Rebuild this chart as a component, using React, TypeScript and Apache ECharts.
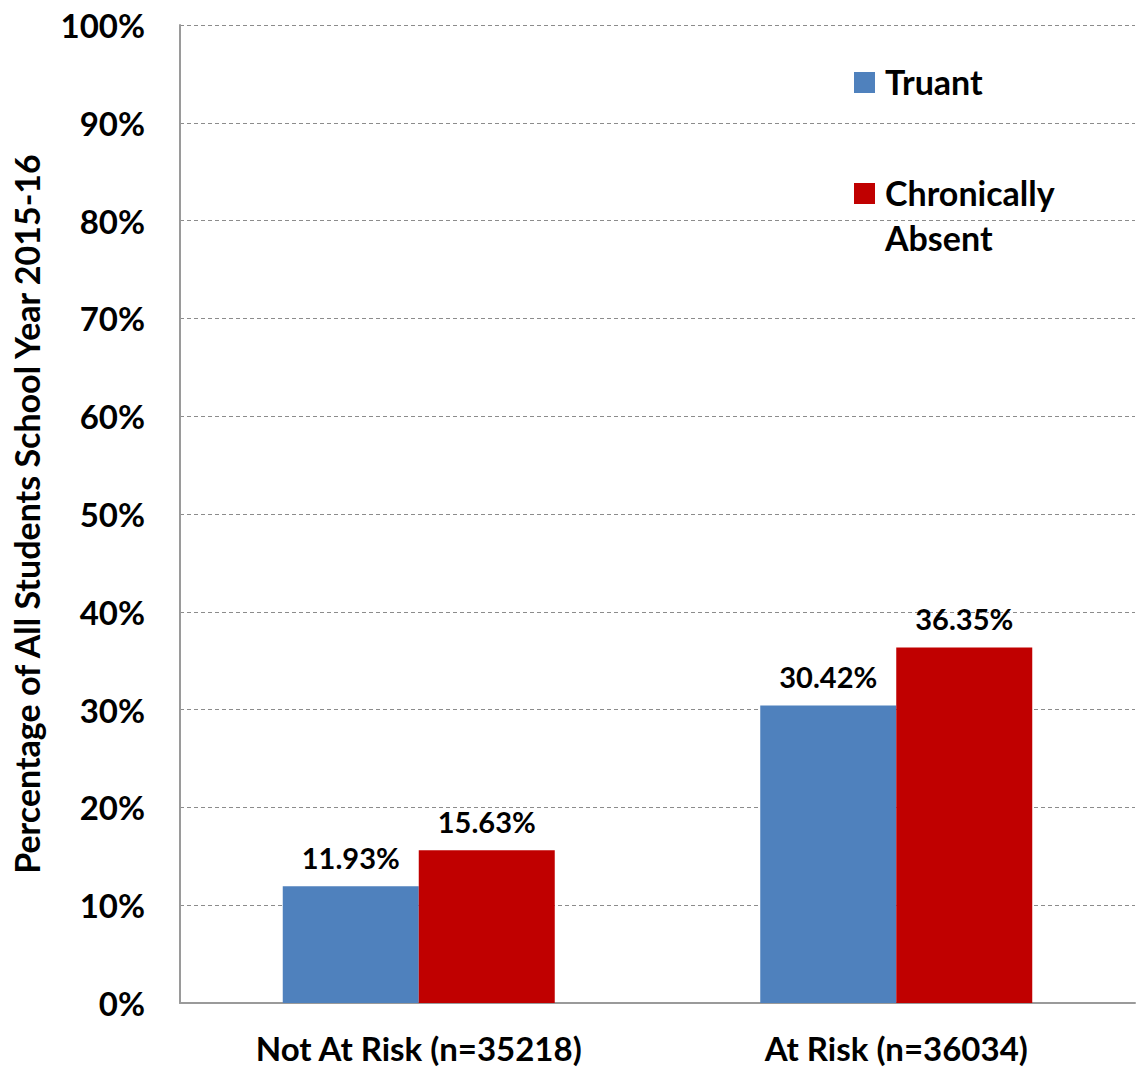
import React, { useEffect, useRef } from "react";
import * as echarts from "echarts";

// Attendance outcomes by risk group, school year 2015-16
const categories = ["Not At Risk (n=35218)", "At Risk (n=36034)"];
const seriesNames = ["Truant", "Chronically Absent"];
const truant = [11.93, 30.42];
const chronicallyAbsent = [15.63, 36.35];
const colors = ["#4F81BD", "#C00000"];
const yTicks = { min: 0, max: 100, interval: 10 };
const yAxisTitle = "Percentage of All Students School Year 2015-16";

const FONT = "Lato, 'Open Sans', sans-serif";

export default function App() {
  const ref = useRef<HTMLDivElement>(null);

  useEffect(() => {
    if (!ref.current) return;
    const chart = echarts.init(ref.current, undefined, { renderer: "svg" });

    const labelStyle = {
      show: true,
      position: "top" as const,
      distance: 14,
      formatter: "{c}%",
      fontFamily: FONT,
      fontWeight: "bold" as const,
      fontSize: 29,
      color: "#000",
    };

    // Legend drawn as a fixed block in the upper right of the plot
    const legendBlocks: any[] = [];
    const legendTops = [72, 183];
    seriesNames.forEach((name, i) => {
      legendBlocks.push({
        type: "rect",
        left: 854,
        top: legendTops[i],
        shape: { width: 21, height: 21 },
        style: { fill: colors[i] },
      });
      legendBlocks.push({
        type: "text",
        left: 885,
        top: legendTops[i] - 13,
        style: {
          text: name.split(" ").join("\n"),
          font: `bold 34px ${FONT}`,
          fill: "#000",
          lineHeight: 45,
        },
      });
    });

    chart.setOption({
      animation: false,
      grid: {
        left: 180,
        right: 5,
        top: 25,
        bottom: 65,
        containLabel: false,
        outerBoundsMode: "none",
      },
      xAxis: {
        type: "category",
        data: categories,
        axisLine: { show: true, lineStyle: { color: "#9a9a9a", width: 2 } },
        axisTick: { show: false },
        axisLabel: {
          margin: 30,
          lineHeight: 30,
          fontFamily: FONT,
          fontWeight: "bold",
          fontSize: 33,
          color: "#000",
        },
      },
      yAxis: {
        type: "value",
        min: yTicks.min,
        max: yTicks.max,
        interval: yTicks.interval,
        name: yAxisTitle,
        nameLocation: "middle",
        nameGap: 136,
        nameTextStyle: {
          fontFamily: FONT,
          fontWeight: "bold",
          fontSize: 34,
          lineHeight: 36,
          color: "#000",
        },
        axisLine: { show: true, lineStyle: { color: "#9a9a9a", width: 2 } },
        axisTick: { show: false },
        axisLabel: {
          margin: 35,
          formatter: "{value}%",
          fontFamily: FONT,
          fontWeight: "bold",
          fontSize: 33,
          color: "#000",
        },
        splitLine: {
          show: true,
          lineStyle: { color: "#8c8c8c", width: 1, type: [4, 3] },
        },
      },
      series: [
        {
          name: seriesNames[0],
          type: "bar",
          data: truant,
          barWidth: 136,
          barGap: "0%",
          itemStyle: { color: colors[0] },
          label: labelStyle,
        },
        {
          name: seriesNames[1],
          type: "bar",
          data: chronicallyAbsent,
          barWidth: 136,
          barGap: "0%",
          itemStyle: { color: colors[1] },
          label: labelStyle,
        },
      ],
      graphic: legendBlocks,
    });

    return () => chart.dispose();
  }, []);

  return (
    <div
      ref={ref}
      style={{ position: "fixed", left: 0, top: 0, width: 1140, height: 1068, background: "#fff" }}
    />
  );
}
